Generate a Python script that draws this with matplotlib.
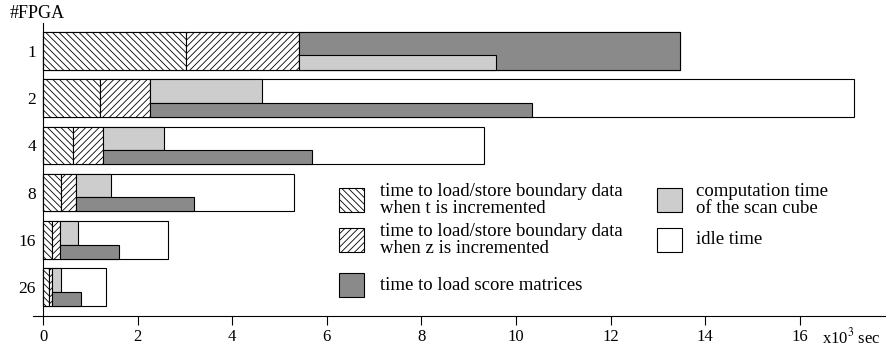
import matplotlib
matplotlib.use('Agg')
import matplotlib.pyplot as plt
from matplotlib.patches import Rectangle

plt.rcParams['font.family'] = ['Liberation Serif', 'DejaVu Serif']
plt.rcParams['mathtext.fontset'] = 'stix'
plt.rcParams['hatch.color'] = 'black'
plt.rcParams['hatch.linewidth'] = 0.6

# #FPGA rows, top to bottom, times in 10^3 sec
fpga = ['1', '2', '4', '8', '16', '26']
t_inc = [3.02, 1.20, 0.64, 0.38, 0.18, 0.12]
z_inc = [2.39, 1.07, 0.63, 0.32, 0.17, 0.06]
comp = [4.17, 2.35, 1.29, 0.73, 0.38, 0.19]
score = [8.06, 8.06, 4.41, 2.49, 1.26, 0.63]
total = [13.47, 17.15, 9.32, 5.31, 2.65, 1.33]

dark = '#8a8a8a'
light = '#cdcdcd'
hatch_t = '\\' * 5
hatch_z = '/' * 5

W, H = 886, 347
fig = plt.figure(figsize=(W / 100, H / 100), dpi=100)
ax = fig.add_axes([33 / W, 1 - 316 / H, 1 - 33 / W, (316 - 23) / H])

n = len(fpga)
for i in range(n):
    p = n - 1 - i
    h = 0.8
    start = t_inc[i] + z_inc[i]
    # idle time outline (full bar)
    ax.barh(p, total[i], height=h, left=0, color='white', edgecolor='black', lw=0.8)
    ax.barh(p, t_inc[i], height=h, left=0, color='white', edgecolor='black',
            hatch=hatch_t, lw=0.8)
    ax.barh(p, z_inc[i], height=h, left=t_inc[i], color='white', edgecolor='black',
            hatch=hatch_z, lw=0.8)
    if i == 0:
        ax.barh(p, score[i], height=h, left=start, color=dark, edgecolor='black', lw=0.8)
        ax.barh(p - 0.4 + 0.16, comp[i], height=0.32, left=start, color=light,
                edgecolor='black', lw=0.8)
    else:
        ax.barh(p + 0.15, comp[i], height=0.5, left=start, color=light,
                edgecolor='black', lw=0.8)
        ax.barh(p - 0.25, score[i], height=0.3, left=start, color=dark,
                edgecolor='black', lw=0.8)

ax.set_xlim(-10 / 47.3, (W - 33) / 47.3 - 10 / 47.3)
ax.set_ylim(-0.614, 5.593)
ax.set_xticks(range(0, 17, 2))
ax.set_yticks(range(n))
ax.set_yticklabels(fpga[::-1])
ax.tick_params(axis='x', direction='out', length=6.5, width=0.8, labelsize=12, pad=3)
ax.tick_params(axis='y', length=0, labelsize=12.5, pad=5)
for s in ['top', 'right']:
    ax.spines[s].set_visible(False)
ax.spines['left'].set_position(('data', 0))
ax.spines['left'].set_linewidth(0.8)
ax.spines['bottom'].set_linewidth(0.8)

fig.text(10 / W, 1 - 14 / H, '#FPGA', fontsize=13, va='center', ha='left')
fig.text(822 / W, 1 - 337 / H, r'x10$^3$ sec', fontsize=12, va='center', ha='left')

# legend
legend = [
    (339, 200, dict(facecolor='white', hatch=hatch_t),
     'time to load/store boundary data\nwhen t is incremented', 380),
    (339, 240, dict(facecolor='white', hatch=hatch_z),
     'time to load/store boundary data\nwhen z is incremented', 380),
    (339, 285, dict(facecolor=dark), 'time to load score matrices', 380),
    (657, 200, dict(facecolor=light), 'computation time\nof the scan cube', 696),
    (657, 240, dict(facecolor='white'), 'idle time', 696),
]
for hx, hy, style, label, tx in legend:
    fig.patches.append(Rectangle((hx / W, 1 - (hy + 12) / H), 25 / W, 24 / H,
                                 transform=fig.transFigure, edgecolor='black',
                                 lw=0.8, **style))
    fig.text(tx / W, 1 - hy / H, label, fontsize=13.5, va='center', ha='left',
             linespacing=1.05)

fig.savefig('out.png', dpi=100)
